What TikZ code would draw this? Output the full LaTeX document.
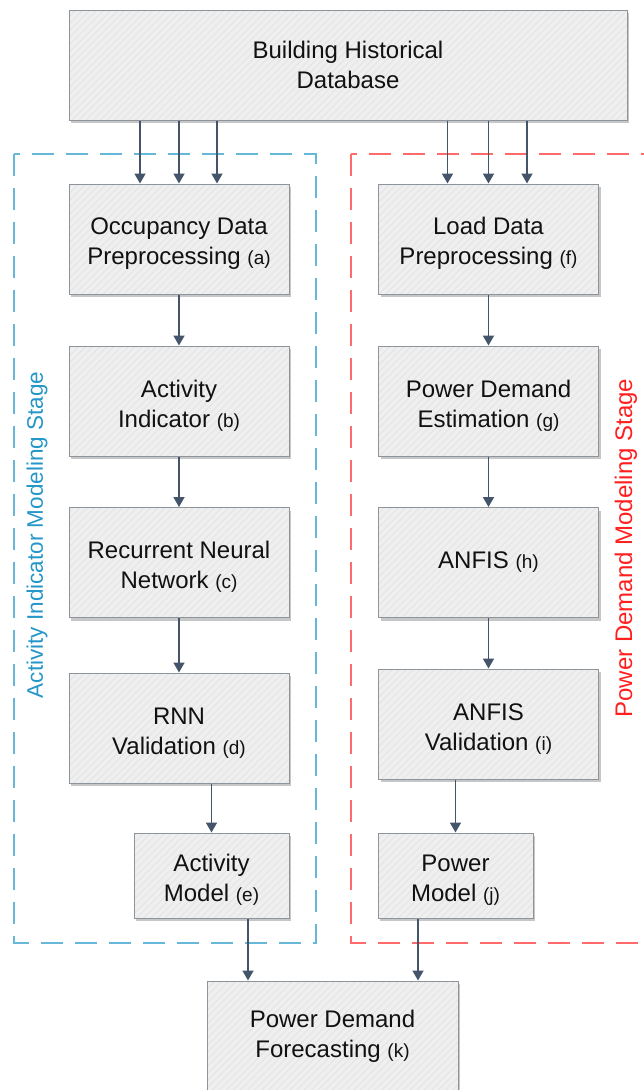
\documentclass[tikz,border=0pt]{standalone}
\usepackage{fontspec}
\setmainfont{Liberation Sans}
\usetikzlibrary{arrows.meta,shadows,patterns.meta}
\definecolor{boxfill}{HTML}{EFEFEF}
\definecolor{hatch}{HTML}{E2E2E2}
\definecolor{boxborder}{HTML}{8E949B}
\definecolor{arrowc}{HTML}{44546A}
\definecolor{bluedash}{HTML}{67B7D8}
\definecolor{bluetxt}{HTML}{2496C8}
\definecolor{reddash}{HTML}{FF6A6A}
\definecolor{redtxt}{HTML}{FF1F1F}
\definecolor{txt}{HTML}{111111}
\newcommand\lbl[1]{{\fontsize{19}{30}\selectfont #1}}
\newcommand\up{\rule{0pt}{26.5pt}}
\begin{document}
\begin{tikzpicture}[x=1pt,y=-1pt,
  box/.style={fill=boxfill, draw=boxborder, line width=1pt,
    minimum width=220pt, minimum height=110pt, inner sep=0pt,
    align=center, text=txt, font=\fontsize{24}{30}\selectfont,
    drop shadow={shadow xshift=2pt, shadow yshift=-3pt, opacity=0.22, fill=black},
    postaction={pattern={Lines[angle=45,distance=5pt,line width=0.7pt]}, pattern color=hatch},
    postaction={draw=boxborder, line width=1pt}},
  smallbox/.style={box, minimum width=155pt, minimum height=85pt},
  arr/.style={draw=arrowc, line width=1.8pt, -{Triangle[length=10pt,width=11pt]}},
  stagedash/.style={line width=1.8pt, dash pattern=on 22pt off 12pt},
  stagelbl/.style={rotate=90}]
\useasboundingbox (0,0) rectangle (644,1090);

% stage frames
\draw[stagedash, draw=bluedash] (14,154) rectangle (316,943);
\draw[stagedash, draw=reddash] (351,154) rectangle (670,943);

% boxes
\node[box, minimum width=558pt, minimum height=110pt] (top) at (348,65) {Building Historical\\Database};

\node[box] (a) at (179,239) {\up Occupancy Data\\Preprocessing \lbl{(a)}};
\node[box] (b) at (179,401) {\up Activity\\Indicator \lbl{(b)}};
\node[box] (c) at (179,562.5) {\up Recurrent Neural\\Network \lbl{(c)}};
\node[box] (d) at (179,728) {\up RNN\\Validation \lbl{(d)}};
\node[smallbox] (e) at (211.5,875.5) {\up Activity\\Model \lbl{(e)}};

\node[box] (f) at (488.5,239) {\up Load Data\\Preprocessing \lbl{(f)}};
\node[box] (g) at (488.5,401) {\up Power Demand\\Estimation \lbl{(g)}};
\node[box] (h) at (488.5,562.5) {ANFIS \lbl{(h)}};
\node[box] (i) at (488.5,724) {\up ANFIS\\Validation \lbl{(i)}};
\node[smallbox] (j) at (455.5,875.5) {\up Power\\Model \lbl{(j)}};

\node[box, minimum width=251pt, minimum height=110pt] (k) at (332.5,1036) {Power Demand\\Forecasting \lbl{(k)}};

% stage labels
\node[stagelbl, text=bluetxt, font=\fontsize{22.5}{28}\selectfont] (lblA) at (37,535) {Activity Indicator Modeling Stage};
\node[stagelbl, text=redtxt, font=\fontsize{24}{28}\selectfont] (lblB) at (626,548) {Power Demand Modeling Stage};

% arrows from database
\draw[arr] ([xshift=-39pt]a.north |- top.south) -- ([xshift=-39pt]a.north);
\draw[arr] (a.north |- top.south) -- (a.north);
\draw[arr] ([xshift=38pt]a.north |- top.south) -- ([xshift=38pt]a.north);
\draw[arr] ([xshift=-41pt]f.north |- top.south) -- ([xshift=-41pt]f.north);
\draw[arr] (f.north |- top.south) -- (f.north);
\draw[arr] ([xshift=38.5pt]f.north |- top.south) -- ([xshift=38.5pt]f.north);

% left chain
\draw[arr] (a) -- (b);
\draw[arr] (b) -- (c);
\draw[arr] (c) -- (d);
\draw[arr] (e.north |- d.south) -- (e.north);

% right chain
\draw[arr] (f) -- (g);
\draw[arr] (g) -- (h);
\draw[arr] (h) -- (i);
\draw[arr] (j.north |- i.south) -- (j.north);

% to forecasting
\draw[arr] ([xshift=36.5pt]e.south) -- ([xshift=36.5pt]e.south |- k.north);
\draw[arr] ([xshift=-37.5pt]j.south) -- ([xshift=-37.5pt]j.south |- k.north);
\end{tikzpicture}
\end{document}
